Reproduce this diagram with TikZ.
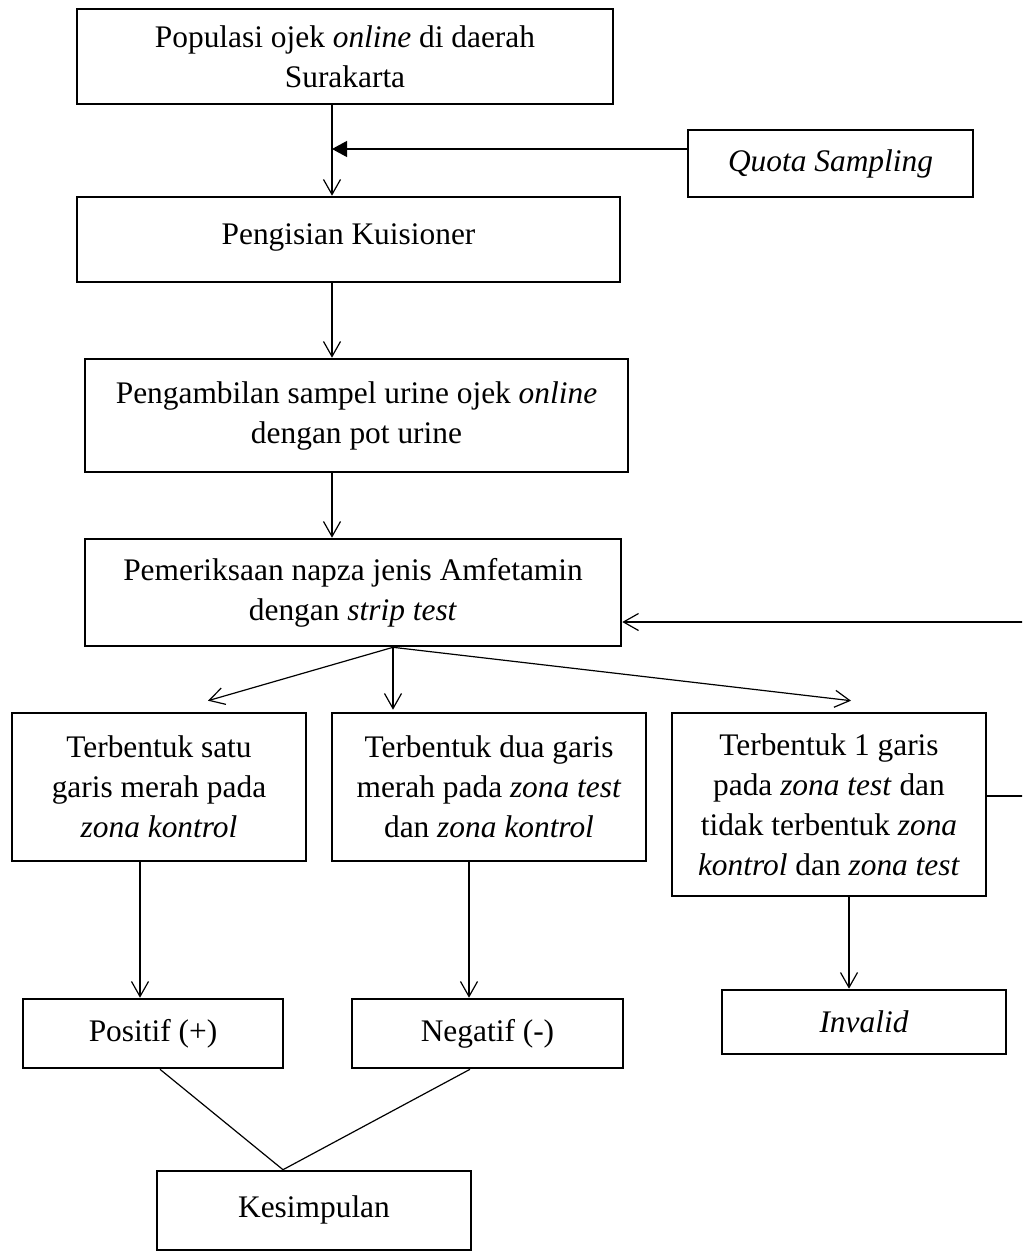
\documentclass[tikz,border=0pt]{standalone}
\usepackage{fontspec}
\setmainfont{Liberation Serif}
\usepackage{tikz}
\usetikzlibrary{arrows.meta,positioning,calc}
\tikzset{
  box/.style   ={draw, line width=1.3pt, align=center, inner sep=2pt,
                 font=\fontsize{15.7}{20}\selectfont, text=black},
  flow/.style  ={-{Straight Barb[length=7.5pt,width=8.5pt]}, line width=.6pt},
  inflow/.style={-{Triangle[length=7.5pt,width=8pt]}, line width=.6pt},
  link/.style  ={line width=.6pt},
}

\begin{document}
\begin{tikzpicture}[x=0.5pt,y=-0.5pt]
  \clip (0,0) rectangle (1022,1252);
  \node[box, minimum width=268pt, minimum height=47.5pt](pop) at (345,56.5){Populasi ojek \textit{online} di daerah\\Surakarta};
  \node[box, minimum width=142.5pt, minimum height=33.5pt](quota) at (830.5,163.5){\textit{Quota Sampling}};
  \node[box, minimum width=271.5pt, minimum height=42.5pt](kuis) at (348.5,239.5){\raisebox{5pt}{Pengisian Kuisioner}};
  \node[box, minimum width=271.5pt, minimum height=56.5pt](ambil) at (356.5,415.5){Pengambilan sampel urine ojek \textit{online}\\dengan pot urine};
  \node[box, minimum width=268pt, minimum height=53.5pt](periksa) at (353,592.5){Pemeriksaan napza jenis Amfetamin\\dengan \textit{strip test}};
  \node[box, minimum width=147pt, minimum height=74pt](satu) at (159,787){Terbentuk satu\\garis merah pada\\\textit{zona kontrol}};
  \node[box, minimum width=157pt, minimum height=74pt](dua) at (489,787){Terbentuk dua garis\\merah pada \textit{zona test}\\dan \textit{zona kontrol}};
  \node[box, minimum width=157pt, minimum height=91.5pt](garis) at (829,804.5){Terbentuk 1 garis\\pada \textit{zona test} dan\\tidak terbentuk \textit{zona}\\\textit{kontrol} dan \textit{zona test}};
  \node[box, minimum width=130pt, minimum height=34.5pt](pos) at (153,1033.5){Positif (+)};
  \node[box, minimum width=135.5pt, minimum height=34.5pt](neg) at (487.5,1033.5){Negatif (-)};
  \node[box, minimum width=142pt, minimum height=32pt](inv) at (864,1022){\textit{Invalid}};
  \node[box, minimum width=157pt, minimum height=39.5pt](kes) at (314,1210.5){\raisebox{4.25pt}{Kesimpulan}};
  \coordinate (q) at (332,149);
  \draw[flow] ([xshift=-6.5pt]pop.south) -- ([xshift=-8.25pt]kuis.north);
  \draw[inflow] (quota.west |- q) -- (q);
  \draw[flow] ([xshift=-8.25pt]kuis.south) -- ([xshift=-12.25pt]ambil.north);
  \draw[flow] ([xshift=-12.25pt]ambil.south) -- ([xshift=-10.5pt]periksa.north);
  \draw[flow] ([xshift=20pt]periksa.south) -- ([xshift=24.5pt,yshift=5.5pt]satu.north);
  \draw[flow] ([xshift=20pt]periksa.south) -- ([xshift=-48pt,yshift=1pt]dua.north);
  \draw[flow] ([xshift=20pt]periksa.south) -- ([xshift=11pt,yshift=5.5pt]garis.north);
  \draw[flow] ([xshift=-9.5pt]satu.south) -- ([xshift=-6.5pt]pos.north);
  \draw[flow] ([xshift=-10pt]dua.south) -- ([xshift=-9.25pt]neg.north);
  \draw[flow] ([xshift=10pt]garis.south) -- ([xshift=-7.5pt]inv.north);
  \draw[link] ([xshift=3.5pt]pos.south) -- ([xshift=-15.5pt]kes.north);
  \draw[link] ([xshift=-8.75pt]neg.south) -- ([xshift=-15.5pt]kes.north);
  \draw[flow] ([yshift=4.25pt]garis.east) -- ++(30pt,0) |- ([yshift=-14.75pt]periksa.east);
\end{tikzpicture}
\end{document}
